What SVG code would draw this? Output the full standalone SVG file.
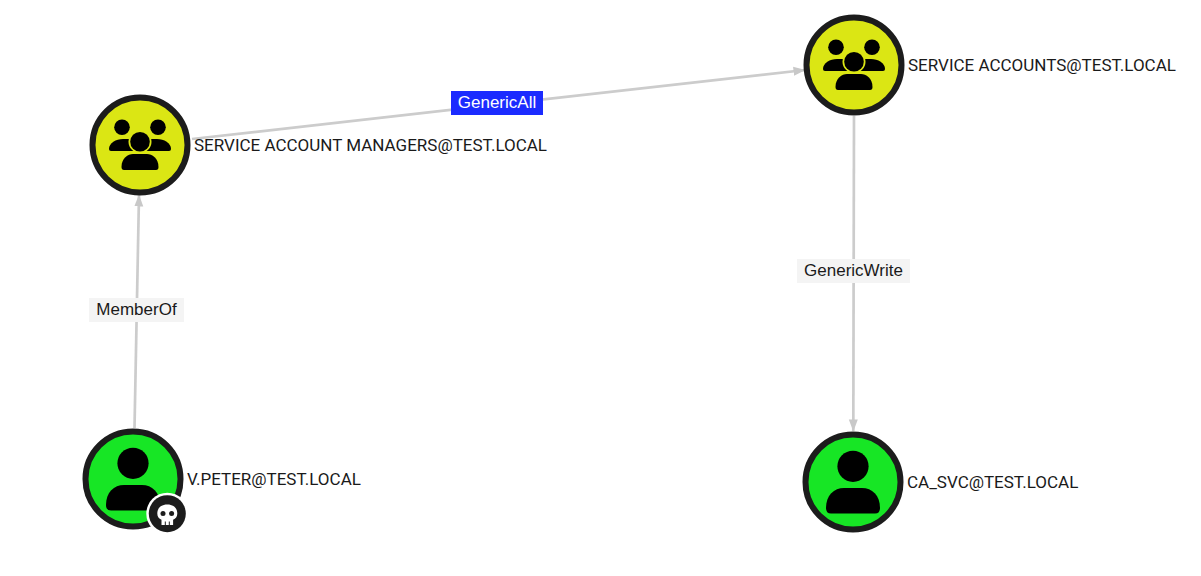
<svg xmlns="http://www.w3.org/2000/svg" width="1201" height="576" viewBox="0 0 1201 576">
<style>
text{font-family:Roboto,"Liberation Sans",sans-serif}
.ring{stroke:#1c1c1c;stroke-width:6}
.group{fill:#dbe614}
.user{fill:#17e625}
.lbl{font-size:17px;fill:#1a1a1a;dominant-baseline:central}
.elbl{font-family:"Liberation Sans",Arial,sans-serif;font-size:17px;text-anchor:middle;dominant-baseline:central;fill:#1a1a1a}
.ebg{fill:#f4f4f4}
.edge{stroke:#cccccc;stroke-width:2.7;fill:none;marker-end:url(#arr)}
</style>
<defs>
<marker id="arr" markerUnits="userSpaceOnUse" viewBox="0 0 12 10" refX="11.500" refY="5" markerWidth="12" markerHeight="10" orient="auto"><path d="M0 0.500L12 5L0 9.500Z" fill="#c8c8c8"/></marker>
<g id="i-group">
<circle cx="-18" cy="-17.700" r="7.800"/><circle cx="18" cy="-17.700" r="7.800"/>
<path d="M-31 4C-31 -2 -24 -6 -17 -6H17C24 -6 31 -2 31 4Q31 6 29 6H-29Q-31 6 -31 4Z"/>
<circle cx="0" cy="-3.300" r="11.500" fill="#dbe614"/>
<circle cx="0" cy="-3.300" r="9.800"/>
<path d="M-18.500 22C-18.500 13 -12 9 -7 9H7C12 9 18.500 13 18.500 22Q18.500 25 16 25H-16Q-18.500 25 -18.500 22Z"/>
</g>
<g id="i-user">
<circle cx="0" cy="-15.700" r="15.600"/>
<path d="M-27 26C-27 13 -19 6 -9 6H9C19 6 27 13 27 26Q27 31.500 22 31.500H-22Q-27 31.500 -27 26Z"/>
</g>
</defs>
<g id="connectors">
<path class="edge" d="M192 139L805 70"/>
<path class="edge" d="M854 116L853.300 431"/>
<path class="edge" d="M134.500 428L139 195"/>
</g>
<g id="edge-genericall"><rect x="451" y="91" width="92" height="24" fill="#1b2bff"/><text class="elbl" x="497" y="102.500" style="fill:#fff">GenericAll</text></g>
<g id="edge-genericwrite"><rect class="ebg" x="797" y="259" width="113" height="24"/><text class="elbl" x="853.500" y="270.500">GenericWrite</text></g>
<g id="edge-memberof"><rect class="ebg" x="89" y="298" width="95" height="24"/><text class="elbl" x="136.500" y="309.500">MemberOf</text></g>
<g id="node-sam"><circle class="ring group" cx="140" cy="145" r="47.500"/><use href="#i-group" x="140" y="145"/><text class="lbl" x="194" y="145">SERVICE ACCOUNT MANAGERS@TEST.LOCAL</text></g>
<g id="node-sa"><circle class="ring group" cx="854" cy="65" r="47.500"/><use href="#i-group" x="854" y="65"/><text class="lbl" x="908" y="65">SERVICE ACCOUNTS@TEST.LOCAL</text></g>
<g id="node-vpeter"><circle class="ring user" cx="133" cy="479" r="47.500"/><use href="#i-user" x="133" y="479"/>
<circle cx="167.300" cy="513.700" r="21" fill="#fff"/><circle cx="167.300" cy="513.700" r="18.500" fill="#1c1c1c"/>
<path d="M167.300 504.500C160.500 504.500 157.300 508.700 157.300 513.500C157.300 516.800 159 518.800 161.500 519.800V525H173.100V519.800C175.600 518.800 177.300 516.800 177.300 513.500C177.300 508.700 174.100 504.500 167.300 504.500Z" fill="#fff"/>
<circle cx="163" cy="513.500" r="2.500" fill="#1c1c1c"/><circle cx="171.600" cy="513.500" r="2.500" fill="#1c1c1c"/>
<path d="M165.300 521.500V525M169.300 521.500V525" stroke="#1c1c1c" stroke-width="1" fill="none"/>
<text class="lbl" x="187" y="479">V.PETER@TEST.LOCAL</text></g>
<g id="node-casvc"><circle class="ring user" cx="853" cy="482" r="47.500"/><use href="#i-user" x="853" y="482"/><text class="lbl" x="907" y="482">CA_SVC@TEST.LOCAL</text></g>
</svg>
